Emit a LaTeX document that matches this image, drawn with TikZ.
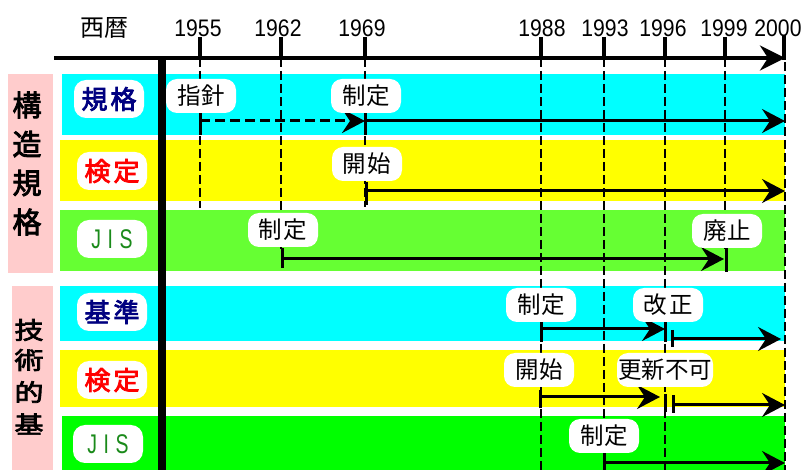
\documentclass[tikz,border=0pt]{standalone}
\usepackage{fontspec}
\setmainfont{Liberation Sans}
\newfontfamily\jp{Noto Sans CJK JP}
\newfontfamily\jpb[FakeBold=3]{Noto Sans CJK JP}
\usetikzlibrary{arrows.meta}
\definecolor{cyanbg}{HTML}{00FFFF}
\definecolor{yellowbg}{HTML}{FFFF00}
\definecolor{greenA}{HTML}{66FF33}
\definecolor{greenB}{HTML}{00FF00}
\definecolor{pinkbg}{HTML}{FFCCCC}
\definecolor{navytext}{HTML}{000080}
\definecolor{redtext}{HTML}{FF0000}
\definecolor{jistext}{HTML}{1A8A1A}
\newcommand{\yr}[1]{\scalebox{0.92}[1.04]{#1}}
\newcommand{\jis}{\scalebox{0.72}[1]{J\hspace{9pt}I\hspace{9pt}S}}
\tikzset{
  yearlbl/.style={font=\fontsize{23}{23}\selectfont, inner sep=0pt},
  tickline/.style={line width=4pt},
  axisline/.style={line width=4pt, -{Stealth[length=25pt,width=25pt,inset=8pt]}},
  vdash/.style={line width=2pt, dash pattern=on 9pt off 4pt},
  arr/.style={line width=3pt, -{Stealth[length=23pt,width=24pt,inset=8pt]}},
  dasharr/.style={arr, dash pattern=on 10pt off 5pt},
  bar/.style={line width=3pt},
  evlbl/.style={fill=white, rounded corners=11pt, minimum width=70pt, minimum height=34pt, inner sep=1pt, font=\jp\fontsize{23.5}{23.5}\selectfont},
  rowlbl/.style={fill=white, rounded corners=12pt, minimum width=70pt, minimum height=38pt, inner sep=1pt},
  rowjp/.style={rowlbl, font=\jpb\fontsize{26}{26}\selectfont},
  rowjis/.style={rowlbl, font=\fontsize{27}{27}\selectfont, text=jistext},
  sidechar/.style={inner sep=0pt, font=\jpb\fontsize{29}{29}\selectfont},
}
\begin{document}
\begin{tikzpicture}[x=1pt,y=-1pt]
\useasboundingbox (0,0) rectangle (807,470);
% side panels
\fill[pinkbg] (8,74) rectangle (53,273);
\fill[pinkbg] (12,286) rectangle (53,470);
% row bands
\fill[cyanbg] (62,74) rectangle (785,135);
\fill[yellowbg] (60,140) rectangle (785,201);
\fill[greenA] (60,210) rectangle (785,271);
\fill[cyanbg] (60,286) rectangle (785,341);
\fill[yellowbg] (60,350) rectangle (785,407);
\fill[greenB] (62,416) rectangle (785,470);

% side texts
\node[sidechar] (s1) at (27,105) {構};
\node[sidechar] (s2) at (27,144) {造};
\node[sidechar] (s3) at (27,183) {規};
\node[sidechar] (s4) at (27,222) {格};
\node[sidechar] (s5) at (29,330) {\scalebox{1}[0.82]{技}};
\node[sidechar] (s6) at (29,360) {\scalebox{1}[0.82]{術}};
\node[sidechar] (s7) at (29,392) {\scalebox{1}[0.82]{的}};
\node[sidechar] (s8) at (29,424) {\scalebox{1}[0.82]{基}};

% year coordinates
\coordinate (y55t) at (200,37);  \coordinate (y55a) at (200,58);
\coordinate (y62t) at (281,37);  \coordinate (y62a) at (281,58);
\coordinate (y69t) at (365,37);  \coordinate (y69a) at (365,58);
\coordinate (y88t) at (541,37);  \coordinate (y88a) at (541,58);
\coordinate (y93t) at (604,37);  \coordinate (y93a) at (604,58);
\coordinate (y96t) at (665,37);  \coordinate (y96a) at (665,58);
\coordinate (y99t) at (725,37);  \coordinate (y99a) at (725,58);
\coordinate (y00t) at (784,35);  \coordinate (y00a) at (784,60);

% dashed verticals
\coordinate (d55) at (200,208);
\coordinate (d62) at (281,250);
\coordinate (d69) at (365,207);
\coordinate (d88) at (541,470);
\coordinate (d93) at (604,470);
\coordinate (d96) at (665,470);
\coordinate (d99) at (725,250);
\coordinate (d00) at (785,470);
\coordinate (v00) at (785,62);
\draw[vdash] (y55a) -- (d55);
\draw[vdash] (y62a) -- (d62);
\draw[vdash] (y69a) -- (d69);
\draw[vdash] (y88a) -- (d88);
\draw[vdash] (y93a) -- (d93);
\draw[vdash] (y96a) -- (d96);
\draw[vdash] (y99a) -- (d99);
\draw[vdash] (v00) -- (d00);

% axis
\coordinate (ax0) at (54,58);
\coordinate (ax1) at (785,58);
\draw[axisline] (ax0) -- (ax1);
\foreach \t/\a in {y55t/y55a,y62t/y62a,y69t/y69a,y88t/y88a,y93t/y93a,y96t/y96a,y99t/y99a,y00t/y00a}
  \draw[tickline] (\t) -- (\a);
\node[yearlbl] (l55) at (198,28) {\yr{1955}};
\node[yearlbl] (l62) at (278,28) {\yr{1962}};
\node[yearlbl] (l69) at (362,28) {\yr{1969}};
\node[yearlbl] (l88) at (542,28) {\yr{1988}};
\node[yearlbl] (l93) at (605,28) {\yr{1993}};
\node[yearlbl] (l96) at (663,28) {\yr{1996}};
\node[yearlbl] (l99) at (724,28) {\yr{1999}};
\node[yearlbl] (l00) at (778,28) {\yr{2000}};
\node[inner sep=0pt, font=\jp\fontsize{24}{24}\selectfont] (seireki) at (104,28) {西暦};

% thick vertical bar
\coordinate (vb0) at (162,58);
\coordinate (vb1) at (162,470);
\draw[line width=8pt] (vb0) -- (vb1);

% Row 1 arrows
\coordinate (r1a) at (200,121); \coordinate (r1b) at (365,121); \coordinate (r1c) at (785,121);
\coordinate (r1t1) at (200,112); \coordinate (r1t2) at (200,135);
\coordinate (r1u1) at (365,112); \coordinate (r1u2) at (365,135);
\draw[bar] (r1t1) -- (r1t2);
\draw[bar] (r1u1) -- (r1u2);
\draw[dasharr] (r1a) -- (r1b);
\draw[arr] (r1b) -- (r1c);

% Row 2
\coordinate (r2a) at (366,191); \coordinate (r2b) at (785,191);
\coordinate (r2t1) at (366,182); \coordinate (r2t2) at (366,205);
\draw[bar] (r2t1) -- (r2t2);
\draw[arr] (r2a) -- (r2b);

% Row 3
\coordinate (r3a) at (282,259); \coordinate (r3b) at (724,259);
\coordinate (r3t1) at (282,248); \coordinate (r3t2) at (282,268);
\coordinate (r3u1) at (726,248); \coordinate (r3u2) at (726,272);
\draw[bar] (r3t1) -- (r3t2);
\draw[bar] (r3u1) -- (r3u2);
\draw[arr] (r3a) -- (r3b);

% Row 4
\coordinate (r4a) at (541,329); \coordinate (r4b) at (665,329);
\coordinate (r4t1) at (541,320); \coordinate (r4t2) at (541,342);
\coordinate (r4u1) at (665,322); \coordinate (r4u2) at (665,342);
\coordinate (r4v1) at (672,330); \coordinate (r4v2) at (672,347);
\coordinate (r4c) at (672,339); \coordinate (r4d) at (781,339);
\draw[bar] (r4t1) -- (r4t2);
\draw[bar] (r4u1) -- (r4u2);
\draw[bar] (r4v1) -- (r4v2);
\draw[arr] (r4a) -- (r4b);
\draw[arr] (r4c) -- (r4d);

% Row 5
\coordinate (r5a) at (540,397); \coordinate (r5b) at (660,397);
\coordinate (r5t1) at (540,390); \coordinate (r5t2) at (540,408);
\coordinate (r5u1) at (665,394); \coordinate (r5u2) at (665,412);
\coordinate (r5v1) at (673,395); \coordinate (r5v2) at (673,413);
\coordinate (r5c) at (673,405); \coordinate (r5d) at (785,405);
\draw[bar] (r5t1) -- (r5t2);
\draw[bar] (r5u1) -- (r5u2);
\draw[bar] (r5v1) -- (r5v2);
\draw[arr] (r5a) -- (r5b);
\draw[arr] (r5c) -- (r5d);

% Row 6
\coordinate (r6a) at (604,463); \coordinate (r6b) at (785,463);
\coordinate (r6t1) at (604,450); \coordinate (r6t2) at (604,470);
\draw[bar] (r6t1) -- (r6t2);
\draw[arr] (r6a) -- (r6b);

% row labels
\node[rowjp, text=navytext] (k1) at (109,99) {規\hspace{3pt}格};
\node[rowjp, text=redtext] (k2) at (112,171) {検\hspace{3pt}定};
\node[rowjis] (k3) at (112,239) {\jis};
\node[rowjp, text=navytext] (k4) at (112,312) {基\hspace{3pt}準};
\node[rowjp, text=redtext] (k5) at (112,380) {検\hspace{3pt}定};
\node[rowjis] (k6) at (108,444) {\jis};

% event labels
\node[evlbl] (e1) at (201,96) {指針};
\node[evlbl] (e2) at (366,96) {制定};
\node[evlbl] (e3) at (367,164) {開\hspace{2pt}始};
\node[evlbl] (e4) at (283,230) {制\hspace{2pt}定};
\node[evlbl] (e5) at (727,231) {廃止};
\node[evlbl] (e6) at (541,305) {制定};
\node[evlbl] (e7) at (668,305) {改\hspace{3pt}正};
\node[evlbl] (e8) at (539,370) {開始};
\node[evlbl, minimum width=96pt] (e9) at (665,370) {更新不可};
\node[evlbl] (e10) at (604,436) {制定};
\end{tikzpicture}
\end{document}
